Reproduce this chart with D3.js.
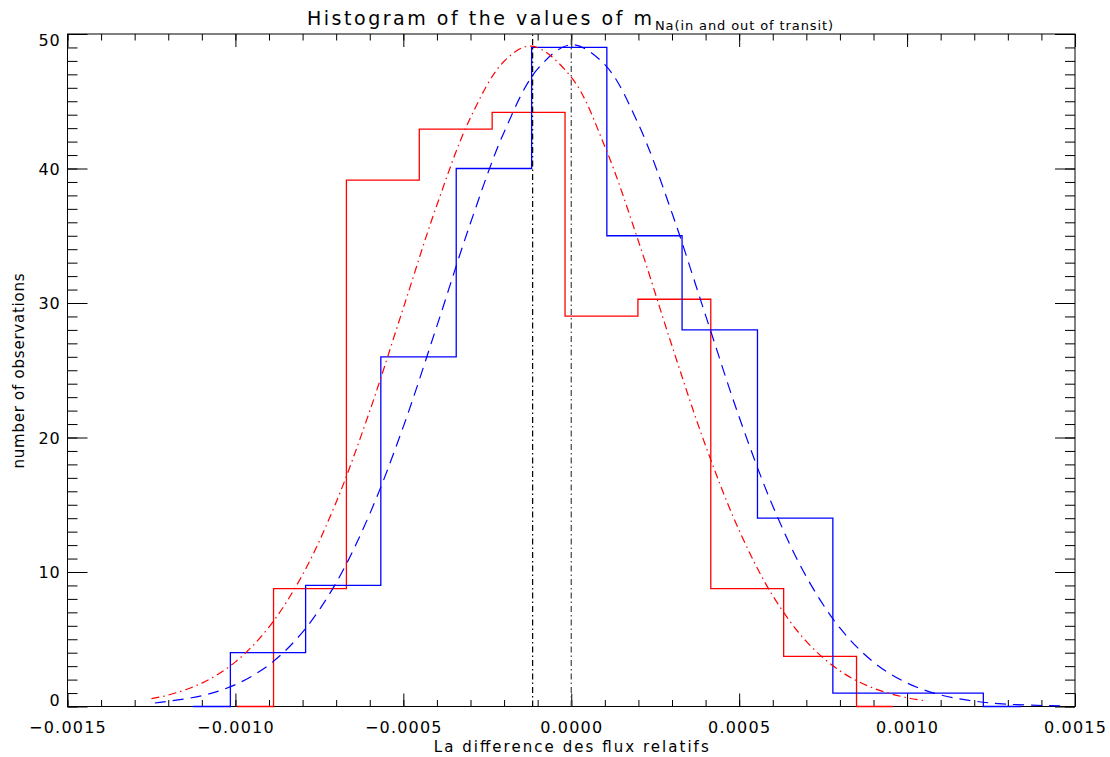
<!DOCTYPE html>
<html>
	<head>
		<meta charset = "utf-8">
		<script src = "https://d3js.org/d3.v7.min.js"></script>
		<style>
			body { margin: 0; background: #fff; }
			text { font-family: "DejaVu Sans", sans-serif; fill: #000; }
		</style>
	</head>
	<body>
		<script>
			// Histogrammes (centres des classes, style psym=10)
			var blueCenters = [-0.001127, -0.000903, -0.000679, -0.000455, -0.000230, -0.000006,
			                   0.000218, 0.000442, 0.000667, 0.000891, 0.001115, 0.001339];
			var blueCounts  = [0, 4, 9, 26, 40, 49, 35, 28, 14, 1, 1, 0];

			var redCenters = [-0.000995, -0.000778, -0.000561, -0.000344, -0.000127,
			                  0.000090, 0.000307, 0.000524, 0.000741, 0.000958];
			var redCounts  = [0, 8.76, 39.14, 42.93, 44.17, 29.02, 30.28, 8.76, 3.72, 0];

			// Courbes gaussiennes
			var blueFitX = [-0.00124, -0.0011, -0.0010, -0.0009, -0.0008, -0.0007, -0.0006, -0.0005,
			                -0.0004, -0.0003, -0.0002, -0.0001, 0.0, 0.0001, 0.0002, 0.0003, 0.0004,
			                0.0005, 0.0006, 0.0007, 0.0008, 0.0009, 0.0010, 0.0011, 0.0012, 0.0013, 0.00146];
			var blueFitY = [0.26, 0.80, 1.63, 3.10, 5.53, 9.20, 14.32, 20.81, 28.30, 35.95, 42.70,
			                47.40, 49.2, 47.72, 43.29, 36.69, 29.08, 21.52, 14.91, 9.65, 5.84, 3.30,
			                1.75, 0.86, 0.40, 0.17, 0.04];

			var redFitX = [-0.00125, -0.0012, -0.0011, -0.0010, -0.0009, -0.0008, -0.0007, -0.0006,
			               -0.0005, -0.0004, -0.0003, -0.0002, -0.000118, 0.0, 0.0001, 0.0002, 0.0003,
			               0.0004, 0.0005, 0.0006, 0.0007, 0.0008, 0.0009, 0.0010, 0.00105];
			var redFitY = [0.58, 0.85, 1.74, 3.32, 5.91, 9.80, 15.19, 21.97, 29.63, 37.29, 43.78,
			               47.97, 49.1, 46.79, 41.64, 34.60, 26.81, 19.39, 13.09, 8.24, 4.84, 2.65,
			               1.36, 0.65, 0.44];

			// Moyennes (lignes verticales)
			var meanLines = [-0.000115, 0.0];
			var meanColors = ["#000000", "#444444"];

			var xTicks = [-0.0015, -0.0010, -0.0005, 0.0, 0.0005, 0.0010, 0.0015];
			var yTicks = [0, 10, 20, 30, 40, 50];

			var width = 1110, height = 757;
			var pLeft = 67.5, pRight = 1075, pTop = 34, pBottom = 706.5;

			var svg = d3.select("body").append("svg")
				.attr("width", width)
				.attr("height", height);

			var x = d3.scaleLinear().domain([-0.0015, 0.0015]).range([pLeft, pRight]);
			var y = d3.scaleLinear().domain([0, 50]).range([pBottom, pTop]);

			var fmt = d3.format(".4f");

			// axes (ticks vers l'intérieur)
			function addAxis(axis, tx, ty){
				var g = svg.append("g").attr("transform", "translate(" + tx + "," + ty + ")").call(axis);
				g.select(".domain").remove();
				g.selectAll("line").attr("stroke", "#000").attr("stroke-width", 1);
				return g;
			}

			var xMinor = d3.range(-15, 16).map(function(i){ return i * 0.0001; });
			var yMinor = d3.range(0, 51);

			addAxis(d3.axisBottom(x).tickValues(xMinor).tickSize(-6.5).tickFormat(""), 0, pBottom);
			addAxis(d3.axisTop(x).tickValues(xMinor).tickSize(-6.5).tickFormat(""), 0, pTop);
			addAxis(d3.axisLeft(y).tickValues(yMinor).tickSize(-10).tickFormat(""), pLeft, 0);
			addAxis(d3.axisRight(y).tickValues(yMinor).tickSize(-10).tickFormat(""), pRight, 0);
			addAxis(d3.axisTop(x).tickValues(xTicks).tickSize(-13).tickFormat(""), 0, pTop);
			addAxis(d3.axisRight(y).tickValues(yTicks).tickSize(-20).tickFormat(""), pRight, 0);

			var gx = addAxis(d3.axisBottom(x).tickValues(xTicks).tickSize(-13).tickFormat(fmt), 0, pBottom);
			gx.selectAll("text")
				.attr("y", 26)
				.attr("dy", null)
				.style("font-size", "16px")
				.style("letter-spacing", "1.2px")
				.attr("fill", "#000");

			var gy = addAxis(d3.axisLeft(y).tickValues(yTicks).tickSize(-20).tickPadding(7), pLeft, 0);
			gy.selectAll("text")
				.style("font-size", "16px")
				.style("letter-spacing", "0.8px")
				.attr("fill", "#000")
				.attr("dy", function(d){ return d === 0 ? "-0.05em" : (d === 50 ? "0.7em" : "0.35em"); });

			// cadre
			svg.append("rect")
				.attr("x", pLeft).attr("y", pTop)
				.attr("width", pRight - pLeft).attr("height", pBottom - pTop)
				.attr("fill", "none").attr("stroke", "#000").attr("stroke-width", 1);

			var plot = svg.append("g");

			var stepLine = d3.line()
				.x(function(d){ return x(d[0]); })
				.y(function(d){ return y(d[1]); })
				.curve(d3.curveStep);

			var smoothLine = d3.line()
				.x(function(d){ return x(d[0]); })
				.y(function(d){ return y(d[1]); })
				.curve(d3.curveCatmullRom);

			plot.append("path")
				.datum(d3.zip(redCenters, redCounts))
				.attr("d", stepLine)
				.attr("fill", "none").attr("stroke", "#ff0000").attr("stroke-width", 1.3);

			plot.append("path")
				.datum(d3.zip(blueCenters, blueCounts))
				.attr("d", stepLine)
				.attr("fill", "none").attr("stroke", "#0000ff").attr("stroke-width", 1.3);

			plot.append("path")
				.datum(d3.zip(blueFitX, blueFitY))
				.attr("d", smoothLine)
				.attr("fill", "none").attr("stroke", "#0000ff").attr("stroke-width", 1.2)
				.attr("stroke-dasharray", "11,7");

			plot.append("path")
				.datum(d3.zip(redFitX, redFitY))
				.attr("d", smoothLine)
				.attr("fill", "none").attr("stroke", "#ff0000").attr("stroke-width", 1.2)
				.attr("stroke-dasharray", "8,4,1.5,4");

			plot.selectAll(".mean")
				.data(meanLines)
				.enter().append("line")
				.attr("x1", function(d){ return x(d); })
				.attr("x2", function(d){ return x(d); })
				.attr("y1", y(0))
				.attr("y2", pTop)
				.attr("stroke", function(d, i){ return meanColors[i]; })
				.attr("stroke-width", 1.2)
				.attr("stroke-dasharray", "6,3,1.5,3");

			// titres
			svg.append("text")
				.attr("x", 307).attr("y", 25)
				.attr("textLength", 345).attr("lengthAdjust", "spacing")
				.style("font-size", "19px")
				.text("Histogram of the values of m");

			svg.append("text")
				.attr("x", 655).attr("y", 30)
				.attr("textLength", 178).attr("lengthAdjust", "spacing")
				.style("font-size", "13px")
				.text("Na(in and out of transit)");

			svg.append("text")
				.attr("x", (pLeft + pRight) / 2).attr("y", 752)
				.attr("text-anchor", "middle")
				.attr("textLength", 275).attr("lengthAdjust", "spacing")
				.style("font-size", "15px")
				.text("La difference des flux relatifs");

			svg.append("text")
				.attr("transform", "translate(24,371) rotate(-90)")
				.attr("text-anchor", "middle")
				.attr("textLength", 195).attr("lengthAdjust", "spacing")
				.style("font-size", "15px")
				.text("number of observations");
		</script>
	</body>
</html>
